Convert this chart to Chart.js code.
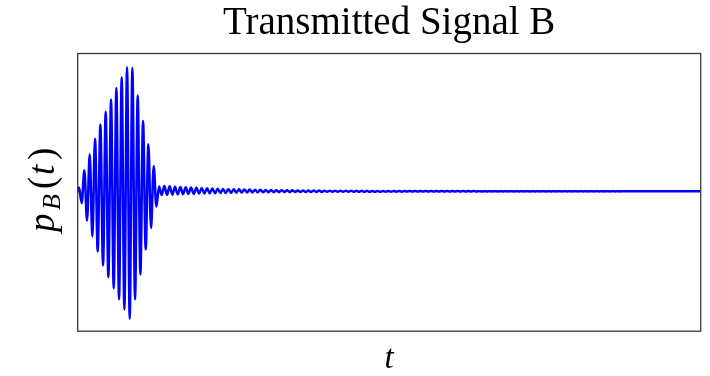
<!DOCTYPE html>
<html>
<head>
<meta charset="utf-8">
<script src="https://cdn.jsdelivr.net/npm/chart.js@4/dist/chart.umd.min.js"></script>
<style>
  html, body { margin: 0; padding: 0; background: #ffffff; }
  #wrap { width: 710px; height: 376px; }
</style>
</head>
<body>
<div id="wrap"><canvas id="c" width="710" height="376"></canvas></div>
<script>
// ---- data (extrema of the oscillation, arbitrary units) ----
const titleText = 'Transmitted Signal B';
const xLabel = 't';

// value at the very start of the trace
const leadIn = [0];

// main burst: alternating maxima / minima
const burst = [
  0.030, -0.095, 0.169, -0.236, 0.297, -0.362, 0.422, -0.482, 0.537, -0.594,
  0.638, -0.690, 0.737, -0.780, 0.830, -0.868, 0.916, -0.948, 0.996, -1.023,
  0.990, -0.868, 0.769, -0.668, 0.564, -0.468, 0.377, -0.295, 0.204, -0.122,
  0.038
];

// decaying ringing after the burst: alternating minima / maxima
const ringing = [
  -0.030, 0.042, -0.029, 0.040, -0.027, 0.037, -0.025, 0.034, -0.023, 0.032,
  -0.021, 0.030, -0.020, 0.028, -0.018, 0.026, -0.017, 0.024, -0.016, 0.022,
  -0.015, 0.021, -0.014, 0.019, -0.013, 0.018, -0.012, 0.017, -0.011, 0.016,
  -0.0100, 0.015, -0.0095, 0.014, -0.009, 0.013, -0.0085, 0.012, -0.008, 0.0105,
  -0.0075, 0.0098, -0.0070, 0.0090, -0.0067, 0.0085, -0.0064, 0.0080, -0.0061, 0.0075,
  -0.0058, 0.0070, -0.0055, 0.0062, -0.0051, 0.0059, -0.0049, 0.0056, -0.0048, 0.0054,
  -0.0047, 0.0052, -0.0046, 0.0050, -0.0045, 0.0049, -0.0044, 0.0048, -0.0043, 0.0046,
  -0.0042, 0.0045, -0.0036, 0.0036, -0.0035, 0.0035, -0.0034, 0.0034, -0.0033, 0.0033,
  -0.0032, 0.0032, -0.0031, 0.0031, -0.0030, 0.0030, -0.0029, 0.0029, -0.0028, 0.0028,
  -0.0027, 0.0026, -0.0025, 0.0025, -0.0024, 0.0024, -0.0023, 0.0023, -0.0022, 0.0022,
  -0.0021, 0.0021, -0.0020, 0.0020, -0.0019, 0.0019, -0.0018, 0.0018, -0.0017, 0.0017,
  -0.0016, 0.0016, -0.0016, 0.0015, -0.0015, 0.0015, -0.0014, 0.0014, -0.0014, 0.0013,
  -0.0013, 0.0013, -0.0013, 0.0012, -0.0012, 0.0012, -0.0012, 0.0011, -0.0011, 0.0011,
  -0.0011, 0.0011, -0.0010, 0.0010, -0.0010, 0.0010, -0.0010, 0.0010, -0.0010, 0.0010,
  -0.0009, 0.0009, -0.0009, 0.0009, -0.0009, 0.0009, -0.0009, 0.0009, -0.0009, 0.0009,
  -0.0008, 0.0008, -0.0008, 0.0008, -0.0008, 0.0008, -0.0008, 0.0008, -0.0008, 0.0008,
  -0.0008, 0.0007, -0.0007, 0.0007, -0.0007, 0.0007, -0.0007, 0.0007, -0.0007, 0.0007,
  -0.0007, 0.0007, -0.0007, 0.0007, -0.0006, 0.0006, -0.0006, 0.0006, -0.0006, 0.0006,
  -0.0006, 0.0006, -0.0006, 0.0006, -0.0006, 0.0006, -0.0005, 0.0005, -0.0005, 0.0005,
  -0.0005, 0.0005, -0.0005, 0.0005, -0.0005, 0.0005, -0.0005, 0.0005, -0.0005, 0.0005,
  -0.0005, 0.0005, -0.0005
];

// axis ranges (time in half-periods, amplitude in arbitrary units)
const tRange = [0, 233.6];
const pRange = [-1.123, 1.106];

// ---- build points: lead-in at t=0, extrema every half-period from t=0.5 ----
const extrema = burst.concat(ringing);
const points = leadIn.map(v => ({ x: 0, y: v }))
  .concat(extrema.map((v, k) => ({ x: 0.5 + k, y: v })));

// ---- plugins: frame and y-axis label with subscript ----
const framePlugin = {
  id: 'frame',
  afterDatasetsDraw(chart) {
    const { ctx, chartArea: a } = chart;
    ctx.save();
    ctx.strokeStyle = '#3a3a3a';
    ctx.lineWidth = 1.3;
    ctx.strokeRect(a.left, a.top, a.right - a.left, a.bottom - a.top);
    ctx.restore();
  }
};

const yLabelPlugin = {
  id: 'ylabel',
  afterDraw(chart) {
    const { ctx } = chart;
    ctx.save();
    ctx.translate(53.5, 232);
    ctx.rotate(-Math.PI / 2);
    ctx.fillStyle = '#000';
    ctx.textBaseline = 'alphabetic';
    ctx.textAlign = 'left';
    const it = 'italic 37px "Liberation Serif"';
    const rm = '37px "Liberation Serif"';
    const sub = 'italic 26px "Liberation Serif"';
    ctx.font = it;  ctx.fillText('p', 0, 0);
    ctx.font = sub; ctx.fillText('B', 22, 6);
    ctx.font = rm;  ctx.fillText('(', 43, 0);
    ctx.font = it;  ctx.fillText('t', 57, 0);
    ctx.font = rm;  ctx.fillText(')', 72, 0);
    ctx.restore();
  }
};

new Chart(document.getElementById('c'), {
  type: 'line',
  data: {
    datasets: [{
      data: points,
      borderColor: '#0000ff',
      borderWidth: 2.5,
      pointRadius: 0,
      cubicInterpolationMode: 'monotone',
      borderJoinStyle: 'round',
      borderCapStyle: 'round',
      fill: false
    }]
  },
  options: {
    responsive: false,
    animation: false,
    devicePixelRatio: 1,
    parsing: false,
    layout: { padding: { left: 77.7, right: 9.3, top: 0, bottom: 0 } },
    plugins: {
      legend: { display: false },
      tooltip: { enabled: false },
      title: {
        display: true,
        text: titleText,
        color: '#000',
        font: { family: '"Liberation Serif"', size: 39, weight: 'normal', lineHeight: 1.2 },
        padding: { top: 0.5, bottom: 6.2 }
      }
    },
    scales: {
      x: {
        type: 'linear',
        min: tRange[0],
        max: tRange[1],
        display: true,
        ticks: { display: false },
        grid: { display: false, drawTicks: false },
        border: { display: false },
        title: {
          display: true,
          text: xLabel,
          color: '#000',
          font: { family: '"Liberation Serif"', size: 33, style: 'italic', lineHeight: 1 },
          padding: { top: 11.8, bottom: 0 }
        }
      },
      y: {
        type: 'linear',
        min: pRange[0],
        max: pRange[1],
        display: false
      }
    }
  },
  plugins: [framePlugin, yLabelPlugin]
});
</script>
</body>
</html>
